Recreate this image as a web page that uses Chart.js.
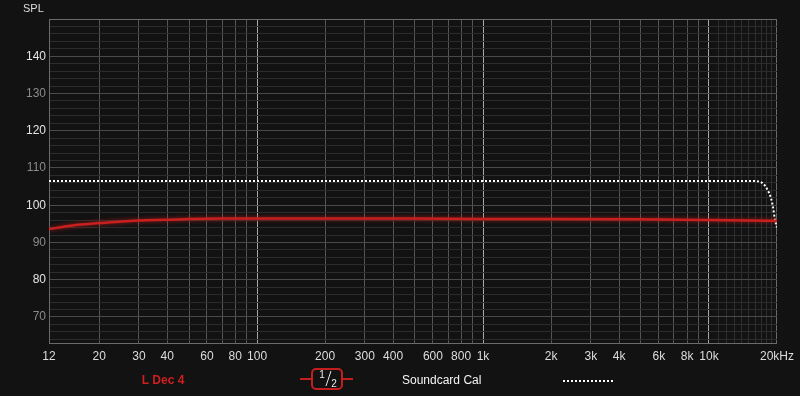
<!DOCTYPE html>
<html>
<head>
<meta charset="utf-8">
<script src="https://cdn.jsdelivr.net/npm/chart.js@4.4.0/dist/chart.umd.min.js"></script>
<style>
    html, body { margin: 0; padding: 0; background: #121212; }
    #wrap { width: 800px; height: 396px; position: relative; }
</style>
</head>
<body>
<div id="wrap"><canvas id="splChart"></canvas></div>
<script>
const decFreqs = [12, 15, 20, 25, 30, 40, 50, 70, 100, 200, 500, 1000, 2000, 5000, 10000, 15000, 20000];
const decSpl = [93.6, 94.5, 95.2, 95.6, 95.9, 96.1, 96.3, 96.4, 96.4, 96.4, 96.4, 96.3, 96.3, 96.2, 96.0, 95.9, 95.8];

const calFreqs = [12, 100, 1000, 10000, 15000, 16500, 17500, 18200, 18800, 19200, 19600, 20000];
const calSpl = [106.5, 106.5, 106.5, 106.5, 106.5, 106.4, 105.6, 104.0, 102.0, 99.5, 96.0, 94.0];

// Axis ticks
const xLabelTicks = [12, 20, 30, 40, 60, 80, 100, 200, 300, 400, 600, 800, 1000, 2000, 3000, 4000, 6000, 8000, 10000, 20000];
const xGridTicks = [50, 70, 90, 500, 700, 900, 5000, 7000, 9000,
    11000, 12000, 13000, 14000, 15000, 16000, 17000, 18000, 19000];
const yLabelTicks = [70, 80, 90, 100, 110, 120, 130, 140];

const X_MIN = 12, X_MAX = 20000;
const Y_MIN = 63, Y_MAX = 150;

function freqLabel(v) {
    if (v === 20000) return '20kHz';
    if (v >= 1000) return (v / 1000) + 'k';
    return String(v);
}

function toPoints(xs, ys) {
    return xs.map((x, i) => ({ x: x, y: ys[i] }));
}

// Glow under the red trace + legend + SPL title
const decorPlugin = {
    id: 'decor',
    beforeDatasetDraw(chart, args) {
        if (args.index === 0) {
            const ctx = chart.ctx;
            ctx.save();
            ctx.shadowColor = 'rgba(230, 30, 30, 0.7)';
            ctx.shadowBlur = 4;
        }
    },
    afterDatasetDraw(chart, args) {
        if (args.index === 0) chart.ctx.restore();
    },
    afterDraw(chart) {
        const ctx = chart.ctx;
        ctx.save();
        ctx.textBaseline = 'middle';

        // y axis title
        ctx.fillStyle = '#dddddd';
        ctx.font = '11px "Liberation Sans", Arial, sans-serif';
        ctx.textAlign = 'left';
        ctx.fillText('SPL', 23, 9);

        // legend: L Dec 4
        const ly = 381;
        ctx.font = 'bold 12px "Liberation Sans", Arial, sans-serif';
        ctx.fillStyle = '#cc2020';
        ctx.textAlign = 'center';
        ctx.fillText('L Dec 4', 163, ly);

        // legend: 1/2 smoothing badge
        ctx.strokeStyle = '#c41e1e';
        ctx.lineWidth = 2;
        ctx.beginPath();
        ctx.moveTo(300, 379); ctx.lineTo(312, 379);
        ctx.moveTo(342, 379); ctx.lineTo(353, 379);
        ctx.stroke();
        ctx.beginPath();
        ctx.roundRect(312, 369, 30, 20, 4);
        ctx.stroke();
        ctx.fillStyle = '#e8e8e8';
        ctx.font = '10px "Liberation Sans", Arial, sans-serif';
        ctx.fillText('1', 322, 375);
        ctx.fillText('2', 334, 384);
        ctx.strokeStyle = '#e8e8e8';
        ctx.lineWidth = 1;
        ctx.beginPath();
        ctx.moveTo(326, 386); ctx.lineTo(331, 371);
        ctx.stroke();

        // legend: Soundcard Cal
        ctx.font = '12px "Liberation Sans", Arial, sans-serif';
        ctx.fillStyle = '#f4f4f4';
        ctx.textAlign = 'left';
        ctx.fillText('Soundcard Cal', 402, ly);

        ctx.strokeStyle = '#ffffff';
        ctx.lineWidth = 2;
        ctx.setLineDash([2, 2]);
        ctx.beginPath();
        ctx.moveTo(563, ly); ctx.lineTo(613, ly);
        ctx.stroke();
        ctx.restore();
    }
};

function xGridColor(ctx) {
    const v = ctx.tick ? ctx.tick.value : 0;
    if (v === 100 || v === 1000 || v === 10000) return '#a8a8a8';
    if (v > 10000 && v < 20000) return '#2e2e2e';
    if (v === X_MIN || v === X_MAX) return '#6a6a6a';
    return '#555555';
}

function yGridColor(ctx) {
    const v = ctx.tick ? ctx.tick.value : 0;
    if (v === Y_MAX || v === Y_MIN) return '#6a6a6a';
    if (v % 10 === 0) return '#4a4a4a';
    return '#2c2c2c';
}

function initializeChart() {
    const ctx = document.getElementById('splChart').getContext('2d');
    new Chart(ctx, {
        type: 'line',
        data: {
            datasets: [{
                label: 'L Dec 4',
                data: toPoints(decFreqs, decSpl),
                borderColor: '#c8201e',
                borderWidth: 2.5,
                pointRadius: 0,
                cubicInterpolationMode: 'monotone'
            }, {
                label: 'Soundcard Cal',
                data: toPoints(calFreqs, calSpl),
                borderColor: '#ffffff',
                borderWidth: 2,
                borderDash: [2, 2],
                pointRadius: 0,
                cubicInterpolationMode: 'monotone'
            }]
        },
        options: {
            responsive: true,
            maintainAspectRatio: false,
            animation: false,
            layout: { padding: { left: 0, top: 19, right: 23, bottom: 0 } },
            plugins: {
                legend: { display: false },
                tooltip: { enabled: false }
            },
            scales: {
                x: {
                    type: 'logarithmic',
                    min: X_MIN,
                    max: X_MAX,
                    afterBuildTicks(scale) {
                        const vals = xLabelTicks.concat(xGridTicks).sort((a, b) => a - b);
                        scale.ticks = vals.map(v => ({ value: v }));
                    },
                    afterFit(scale) { scale.height = 53; },
                    border: { display: true, color: '#6a6a6a' },
                    grid: { color: xGridColor, drawTicks: false },
                    ticks: {
                        autoSkip: false,
                        maxRotation: 0,
                        padding: 6,
                        color: '#dddddd',
                        font: { family: '"Liberation Sans", Arial, sans-serif', size: 12 },
                        callback: (v) => xLabelTicks.includes(v) ? freqLabel(v) : ''
                    }
                },
                y: {
                    min: Y_MIN,
                    max: Y_MAX,
                    afterBuildTicks(scale) {
                        const vals = [];
                        for (let v = 64; v <= Y_MAX; v += 2) vals.push(v);
                        scale.ticks = vals.map(v => ({ value: v }));
                    },
                    afterFit(scale) { scale.width = 49; },
                    border: { display: true, color: '#6a6a6a' },
                    grid: { color: yGridColor, drawTicks: false },
                    ticks: {
                        autoSkip: false,
                        padding: 3,
                        color: (c) => (c.tick && c.tick.value % 20 === 0) ? '#e4e4e4' : '#8a8a8a',
                        font: { family: '"Liberation Sans", Arial, sans-serif', size: 12 },
                        callback: (v) => yLabelTicks.includes(v) ? String(v) : ''
                    }
                }
            }
        },
        plugins: [decorPlugin]
    });
}

document.addEventListener('DOMContentLoaded', initializeChart);
</script>
</body>
</html>
